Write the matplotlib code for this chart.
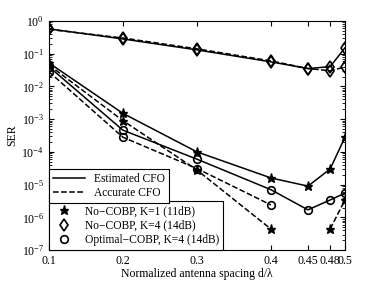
import numpy as np
import matplotlib
matplotlib.use("Agg")
import matplotlib.pyplot as plt
from matplotlib.lines import Line2D

plt.rcParams["font.family"] = ["Liberation Serif", "DejaVu Serif"]
plt.rcParams["mathtext.fontset"] = "stix"

d = [0.1, 0.2, 0.3, 0.4, 0.45, 0.48, 0.5]
xticklabels = ["0.1", "0.2", "0.3", "0.4", "0.45", "0.48", "0.5"]

# No-COBP, K=1 (11dB)
k1_est = [0.052, 1.5e-3, 1.0e-4, 1.6e-5, 9e-6, 3.0e-5, 2.8e-4]
k1_acc = [0.045, 9e-4, 2.8e-5, 4.4e-7, np.nan, 4.4e-7, 3.4e-6]
# No-COBP, K=4 (14dB)
k4_est = [0.57, 0.28, 0.13, 0.056, 0.035, 0.04, 0.15]
k4_acc = [0.55, 0.30, 0.14, 0.06, 0.035, 0.03, 0.039]
# Optimal-COBP, K=4 (14dB)
opt_est = [0.04, 4.6e-4, 6e-5, 7e-6, 1.7e-6, 3.4e-6, 5.5e-6]
opt_acc = [0.028, 2.8e-4, 3.1e-5, 2.4e-6, np.nan, np.nan, np.nan]

star = dict(marker="*", ms=6.5)
diam = dict(marker="d", ms=6.5, mfc="none", mew=1.2)
circ = dict(marker="o", ms=5.5, mfc="none", mew=1.2)

fig = plt.figure(figsize=(3.82, 2.82), dpi=100)
ax = fig.add_axes([0.128, 0.113, 0.775, 0.813])

ax.plot(d, k1_est, "-", color="black", lw=1.1, **star)
ax.plot(d, k1_acc, "--", color="black", lw=1.1, **star)
ax.plot(d, k4_est, "-", color="black", lw=1.1, **diam)
ax.plot(d, k4_acc, "--", color="black", lw=1.1, **diam)
ax.plot(d, opt_est, "-", color="black", lw=1.1, **circ)
ax.plot(d, opt_acc, "--", color="black", lw=1.1, **circ)

ax.set_yscale("log")
ax.set_ylim(1e-7, 1)
ax.set_xlim(0.1, 0.5)
ax.set_xticks(d)
ax.set_xticklabels(xticklabels)
ax.tick_params(which="both", direction="in", top=True, right=True, labelsize=8.5)
ax.set_xlabel("Normalized antenna spacing d/λ", fontsize=8.5, labelpad=1)
ax.set_ylabel("SER", fontsize=8.5, labelpad=2)

marker_handles = [
    Line2D([], [], ls="none", color="black", **star),
    Line2D([], [], ls="none", color="black", **diam),
    Line2D([], [], ls="none", color="black", **circ),
]
leg1 = ax.legend(marker_handles,
                 ["No\u2212COBP, K=1 (11dB)", "No\u2212COBP, K=4 (14dB)",
                  "Optimal\u2212COBP, K=4 (14dB)"],
                 loc="lower left", fontsize=8.3, fancybox=False, framealpha=1,
                 edgecolor="black", borderaxespad=0, handlelength=2,
                 labelspacing=0.2, borderpad=0.35)
leg1.get_frame().set_linewidth(0.8)
ax.add_artist(leg1)

line_handles = [
    Line2D([], [], ls="-", color="black", lw=1.1),
    Line2D([], [], ls="--", color="black", lw=1.1),
]
leg2 = ax.legend(line_handles, ["Estimated CFO", "Accurate CFO"],
                 loc="lower left", bbox_to_anchor=(0, 0.205), fontsize=8.3,
                 fancybox=False, framealpha=1, edgecolor="black",
                 borderaxespad=0, handlelength=2.8, labelspacing=0.2,
                 borderpad=0.35)
leg2.get_frame().set_linewidth(0.8)

fig.savefig("out.png", dpi=100)
